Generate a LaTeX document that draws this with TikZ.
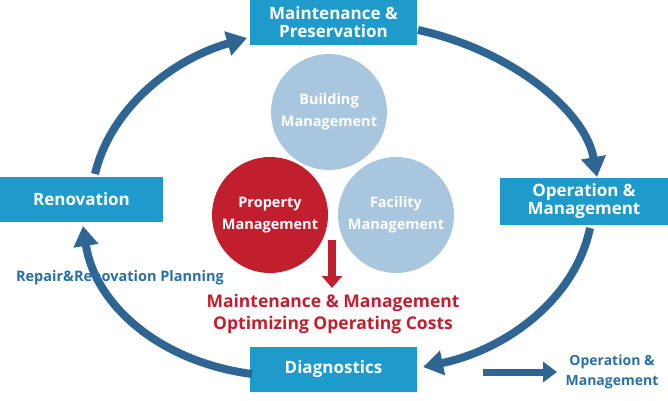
\documentclass[tikz,border=0pt]{standalone}
\usepackage{fontspec}
\setmainfont{Open Sans}
\usetikzlibrary{arrows.meta}
\definecolor{boxc}{HTML}{1E9ACB}
\definecolor{arc}{HTML}{2E6593}
\definecolor{lb}{HTML}{A9C6DF}
\definecolor{rd}{HTML}{C21F2E}
\definecolor{tb}{HTML}{2A6EA6}
\tikzset{
 box/.style={fill=boxc,text=white,font=\bfseries\fontsize{17}{18}\selectfont,align=center,inner sep=0pt},
 circ/.style={circle,minimum size=116pt,inner sep=0pt,text=white,font=\bfseries\fontsize{14.5}{22}\selectfont,align=center},
 cyc/.style={arc,line width=8pt,-{Triangle[length=20pt,width=24pt]}},
}
\begin{document}
\begin{tikzpicture}[x=1pt,y=-1pt]
\useasboundingbox (0,0) rectangle (668,400);
\node[circ,fill=lb] (b) at (329,112) {Building\\Management};
\node[circ,fill=lb] (f) at (396,215) {Facility\\Management};
\node[circ,fill=rd] (p) at (270,215) {Property\\Management};
\node[box,minimum width=167pt,minimum height=45pt] (top) at (333.5,22.5) {Maintenance \&\\Preservation};
\node[box,minimum width=168pt,minimum height=47pt] (right) at (584,201.5) {Operation \&\\Management};
\node[box,minimum width=163pt,minimum height=45pt] (left) at (81.5,199.5) {Renovation};
\node[box,minimum width=167pt,minimum height=45pt] (bot) at (333.5,369.5) {Diagnostics};
\coordinate (a0) at (332,240); \coordinate (a1) at (332,288);
\draw[rd,line width=8pt,-{Triangle[length=12pt,width=20pt]}] (a0) -- (a1);
\node[text=rd,font=\bfseries\fontsize{17.5}{22}\selectfont,align=center] (rt) at (333,314) {Maintenance \& Management\\Optimizing Operating Costs};
\coordinate (s1) at (95,174); \coordinate (e1) at (247,38);
\draw[cyc] (s1) .. controls (110,110) and (170,60) .. (e1);
\coordinate (s2) at (418,30); \coordinate (e2) at (597,177);
\draw[cyc] (s2) .. controls (510,50) and (585,110) .. (e2);
\coordinate (s3) at (590,228); \coordinate (e3) at (423,367);
\draw[cyc] (s3) .. controls (575,300) and (505,350) .. (e3);
\coordinate (s4) at (252,374); \coordinate (e4) at (83,226);
\draw[cyc] (s4) .. controls (160,362) and (95,305) .. (e4);
\node[text=tb,font=\bfseries\fontsize{14.5}{16}\selectfont] (rp) at (120,278) {Repair\&Renovation Planning};
\coordinate (o0) at (483,372); \coordinate (o1) at (557,372);
\draw[arc,line width=7pt,-{Triangle[length=14pt,width=20pt]}] (o0) -- (o1);
\node[text=tb,font=\bfseries\fontsize{14}{20}\selectfont,align=center] (op) at (612,372) {Operation \&\\Management};
\end{tikzpicture}
\end{document}
